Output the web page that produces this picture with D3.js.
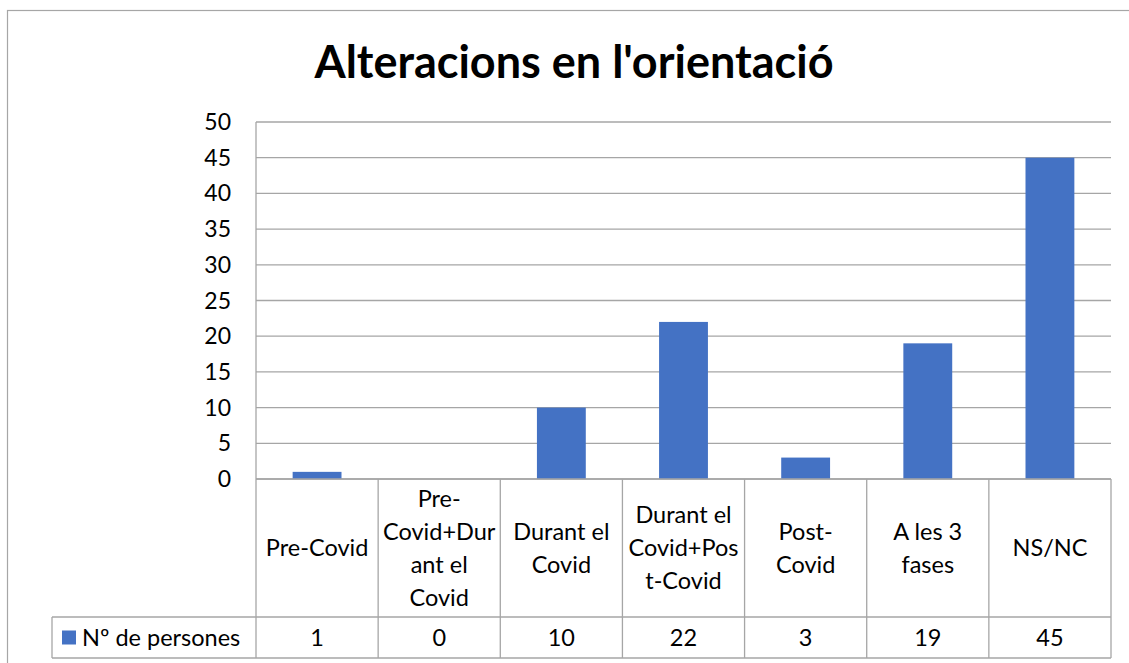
<!DOCTYPE html>
<html>
<head>
<meta charset="utf-8">
<script src="https://cdn.jsdelivr.net/npm/d3@7"></script>
<style>
  html, body { margin: 0; padding: 0; background: #fff; }
  svg { display: block; font-family: Lato, "Open Sans", sans-serif; }
</style>
</head>
<body>
<div id="chart"></div>
<script>
const title = "Alteracions en l'orientació";
const categories = ['Pre-Covid', 'Pre-Covid+Durant el Covid', 'Durant el Covid', 'Durant el Covid+Post-Covid', 'Post-Covid', 'A les 3 fases', 'NS/NC'];
// wrapped as in the data table of the original
const categoryLines = [
  ['Pre-Covid'],
  ['Pre-', 'Covid+Dur', 'ant el', 'Covid'],
  ['Durant el', 'Covid'],
  ['Durant el', 'Covid+Pos', 't-Covid'],
  ['Post-', 'Covid'],
  ['A les 3', 'fases'],
  ['NS/NC']
];
const seriesName = 'Nº de persones';
const values = [1, 0, 10, 22, 3, 19, 45];
const yTicks = [0, 5, 10, 15, 20, 25, 30, 35, 40, 45, 50];

const W = 1129, H = 663;
const plot = {left: 256, right: 1111, top: 122, bottom: 479};
const catRowBottom = 617, valRowBottom = 658, legendLeft = 52;
const gridColor = '#a6a6a6';
const barColor = '#4472c4';
const fs = 23.5;

const svg = d3.select('#chart').append('svg')
  .attr('width', W)
  .attr('height', H);

// outer chart border
svg.append('rect')
  .attr('x', 7.5).attr('y', 10.5)
  .attr('width', W + 20).attr('height', H + 20)
  .attr('fill', 'none')
  .attr('stroke', '#a6a6a6')
  .attr('stroke-width', 1.2);

svg.append('text')
  .attr('x', 574).attr('y', 78)
  .attr('text-anchor', 'middle')
  .attr('font-size', 45)
  .attr('font-weight', 'bold')
  .attr('fill', '#000')
  .text(title);

const x = d3.scaleBand()
  .domain(categories)
  .range([plot.left, plot.right])
  .paddingInner(0.6)
  .paddingOuter(0.3);

const xCell = d3.scaleBand()
  .domain(categories)
  .range([plot.left, plot.right]);

const y = d3.scaleLinear()
  .domain([0, 50])
  .range([plot.bottom, plot.top]);

// gridlines
svg.append('g')
  .selectAll('line')
  .data(yTicks)
  .join('line')
  .attr('x1', plot.left).attr('x2', plot.right)
  .attr('y1', d => y(d)).attr('y2', d => y(d))
  .attr('stroke', gridColor)
  .attr('stroke-width', 1.3);

// left axis line
svg.append('line')
  .attr('x1', plot.left).attr('x2', plot.left)
  .attr('y1', plot.top).attr('y2', plot.bottom)
  .attr('stroke', gridColor)
  .attr('stroke-width', 1.3);

// y tick labels
svg.append('g')
  .selectAll('text')
  .data(yTicks)
  .join('text')
  .attr('x', 231)
  .attr('y', d => y(d))
  .attr('dy', '0.35em')
  .attr('text-anchor', 'end')
  .attr('font-size', 23)
  .attr('fill', '#000')
  .text(d => d);

// bars
svg.append('g')
  .selectAll('rect')
  .data(values)
  .join('rect')
  .attr('x', (d, i) => x(categories[i]))
  .attr('width', x.bandwidth())
  .attr('y', d => y(d))
  .attr('height', d => y(0) - y(d))
  .attr('fill', barColor);

// data table
const table = svg.append('g')
  .attr('stroke', gridColor)
  .attr('stroke-width', 1.3);

table.append('line')
  .attr('x1', plot.left).attr('x2', plot.right)
  .attr('y1', plot.bottom).attr('y2', plot.bottom);
table.append('line')
  .attr('x1', legendLeft).attr('x2', plot.right)
  .attr('y1', catRowBottom).attr('y2', catRowBottom);
table.append('line')
  .attr('x1', legendLeft).attr('x2', plot.right)
  .attr('y1', valRowBottom).attr('y2', valRowBottom);
table.append('line')
  .attr('x1', legendLeft).attr('x2', legendLeft)
  .attr('y1', catRowBottom).attr('y2', valRowBottom);

const colEdges = categories.map(c => xCell(c)).concat([plot.right]);
table.selectAll('line.col')
  .data(colEdges)
  .join('line')
  .attr('class', 'col')
  .attr('x1', d => d).attr('x2', d => d)
  .attr('y1', plot.bottom).attr('y2', valRowBottom);

// category labels
const lineH = 33;
const catMid = (plot.bottom + catRowBottom) / 2;
svg.append('g')
  .selectAll('text')
  .data(categoryLines)
  .join('text')
  .attr('text-anchor', 'middle')
  .attr('font-size', fs)
  .attr('fill', '#000')
  .each(function(lines, i) {
    const cx = xCell(categories[i]) + xCell.bandwidth() / 2;
    const y0 = catMid - (lines.length - 1) * lineH / 2;
    d3.select(this).selectAll('tspan')
      .data(lines)
      .join('tspan')
      .attr('x', cx)
      .attr('y', (l, j) => y0 + j * lineH)
      .attr('dy', '0.35em')
      .text(l => l);
  });

// values row
const valMid = (catRowBottom + valRowBottom) / 2;
svg.append('g')
  .selectAll('text')
  .data(values)
  .join('text')
  .attr('x', (d, i) => xCell(categories[i]) + xCell.bandwidth() / 2)
  .attr('y', valMid)
  .attr('dy', '0.35em')
  .attr('text-anchor', 'middle')
  .attr('font-size', fs)
  .attr('fill', '#000')
  .text(d => d);

// legend key
svg.append('rect')
  .attr('x', 62).attr('y', valMid - 7)
  .attr('width', 14).attr('height', 14)
  .attr('fill', barColor);
svg.append('text')
  .attr('x', 82).attr('y', valMid)
  .attr('dy', '0.35em')
  .attr('font-size', fs)
  .attr('fill', '#000')
  .text(seriesName);
</script>
</body>
</html>
